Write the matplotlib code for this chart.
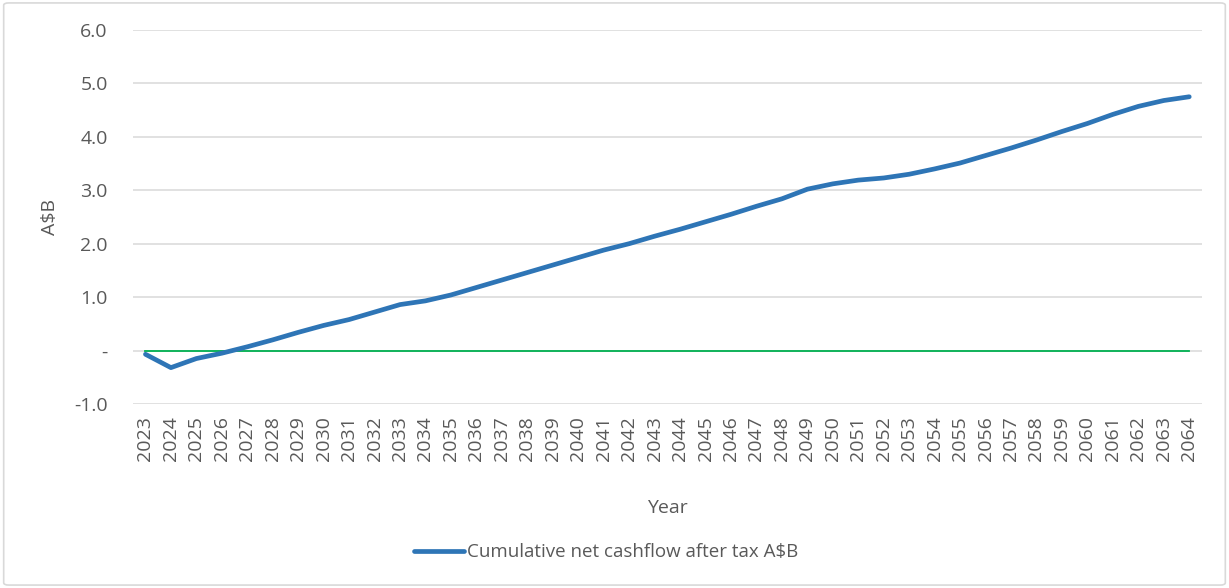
import matplotlib
matplotlib.use("Agg")
import matplotlib.pyplot as plt
from matplotlib.patches import FancyBboxPatch
from matplotlib.ticker import FuncFormatter

# Years on the category axis
years = list(range(2023, 2065))

# Cumulative net cashflow after tax (A$B)
cumulative = [
    -0.07, -0.32, -0.15, -0.05, 0.07, 0.20, 0.34, 0.47, 0.58, 0.72,
    0.86, 0.93, 1.04, 1.18, 1.32, 1.46, 1.60, 1.74, 1.88, 2.00,
    2.14, 2.27, 2.41, 2.55, 2.70, 2.84, 3.02, 3.12, 3.19, 3.23,
    3.30, 3.40, 3.51, 3.65, 3.79, 3.94, 4.10, 4.25, 4.42, 4.57,
    4.68, 4.75,
]
zero_line = [0.0] * len(years)

text_color = "#595959"
plt.rcParams["font.family"] = ["Open Sans", "DejaVu Sans"]

fig = plt.figure(figsize=(12.29, 5.88), dpi=100)
ax = fig.add_axes([0.108, 0.313, 0.870, 0.636])

# Light border around the whole chart
fig.patches.append(FancyBboxPatch(
    (0.003, 0.005), 0.994, 0.99, boxstyle="round,pad=0,rounding_size=0.004",
    transform=fig.transFigure, fill=False, edgecolor="#D9D9D9", linewidth=1.2,
))

x = list(range(len(years)))
ax.plot(x, zero_line, color="#00B050", linewidth=1.3, zorder=2)
ax.plot(x, cumulative, color="#2E75B6", linewidth=3.4, solid_capstyle="round",
        solid_joinstyle="round", zorder=3,
        label="Cumulative net cashflow after tax A$B")

ax.set_xlim(-0.5, len(years) - 0.5)
ax.set_ylim(-1.0, 6.0)
ax.set_yticks([-1, 0, 1, 2, 3, 4, 5, 6])
ax.yaxis.set_major_formatter(
    FuncFormatter(lambda v, _: "-" if abs(v) < 1e-9 else f"{v:.1f}"))
ax.set_xticks(x)
ax.set_xticklabels([str(y) for y in years], rotation=90)

ax.grid(axis="y", color="#D9D9D9", linewidth=1.1)
ax.set_axisbelow(True)
for side in ["top", "right", "left", "bottom"]:
    ax.spines[side].set_visible(False)
ax.tick_params(axis="both", length=0, labelsize=14, colors=text_color)
ax.tick_params(axis="y", pad=18)
ax.tick_params(axis="x", pad=9)

ax.set_xlabel("Year", fontsize=14, color=text_color, labelpad=27)
ax.set_ylabel("A$B", fontsize=14, color=text_color, labelpad=11)

fig.legend(loc="center", bbox_to_anchor=(0.493, 0.061), frameon=False,
           fontsize=13.5, labelcolor=text_color, handlelength=2.7,
           handletextpad=0.15)

fig.savefig("out.png", dpi=100)
